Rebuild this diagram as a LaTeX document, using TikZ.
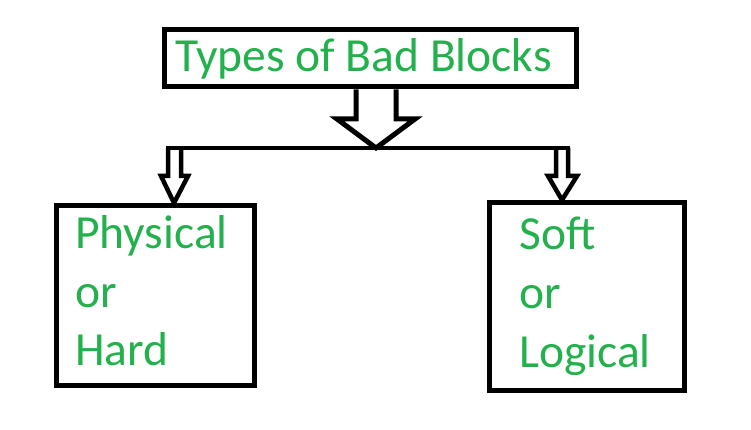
\documentclass[tikz,border=0pt]{standalone}
\usepackage{fontspec}
\setmainfont{Carlito}
\definecolor{pgreen}{HTML}{22B14C}
\begin{document}
\begin{tikzpicture}[x=1pt,y=-1pt,
  txt/.style={text=pgreen,font=\fontsize{47.5}{47.5}\selectfont,anchor=base west,inner sep=0pt},
  boxstyle/.style={draw=black,line width=5pt,inner sep=0pt},
  arrowline/.style={draw=black,line width=4.5pt,line join=miter}]
\useasboundingbox (0,0) rectangle (751,430);
\fill[white] (0,0) rectangle (751,430);
% boxes
\node[boxstyle,minimum width=412pt,minimum height=57pt] (top) at (370,58.5) {};
\node[boxstyle,minimum width=198pt,minimum height=180pt] (left) at (155.5,295.5) {};
\node[boxstyle,minimum width=195pt,minimum height=188pt] (right) at (587,296.5) {};
% texts
\node[txt] (t0) at (175,72) {Types of Bad Blocks};
\node[txt] (l1) at (75,248) {Physical};
\node[txt] (l2) at (75,307) {or};
\node[txt] (l3) at (75,365) {Hard};
\node[txt] (r1) at (519,249) {Soft};
\node[txt] (r2) at (519,308) {or};
\node[txt] (r3) at (519,367) {Logical};
% reference x positions
\coordinate (xa) at (356,0);
\coordinate (xb) at (396,0);
\coordinate (xl) at (174,0);
\coordinate (xr) at (562,0);
% big hollow arrow
\coordinate (tip) at (376,148);
\draw[arrowline,line width=5pt] (xa |- top.south) -- (356,119) -- (337,119) -- (tip) -- (415,119) -- (396,119) -- (xb |- top.south);
% horizontal bar
\coordinate (barL) at (166,148);
\coordinate (barR) at (570,148);
\draw[arrowline] (barL) -- (barR);
% left small arrow
\draw[arrowline] (168,148) -- (168,176) -- (161,176) -- (xl |- left.north) -- (188,176) -- (181,176) -- (181,148);
% right small arrow
\draw[arrowline] (556,148) -- (556,176) -- (548,176) -- (xr |- right.north) -- (577,176) -- (568,176) -- (568,148);
\end{tikzpicture}
\end{document}
